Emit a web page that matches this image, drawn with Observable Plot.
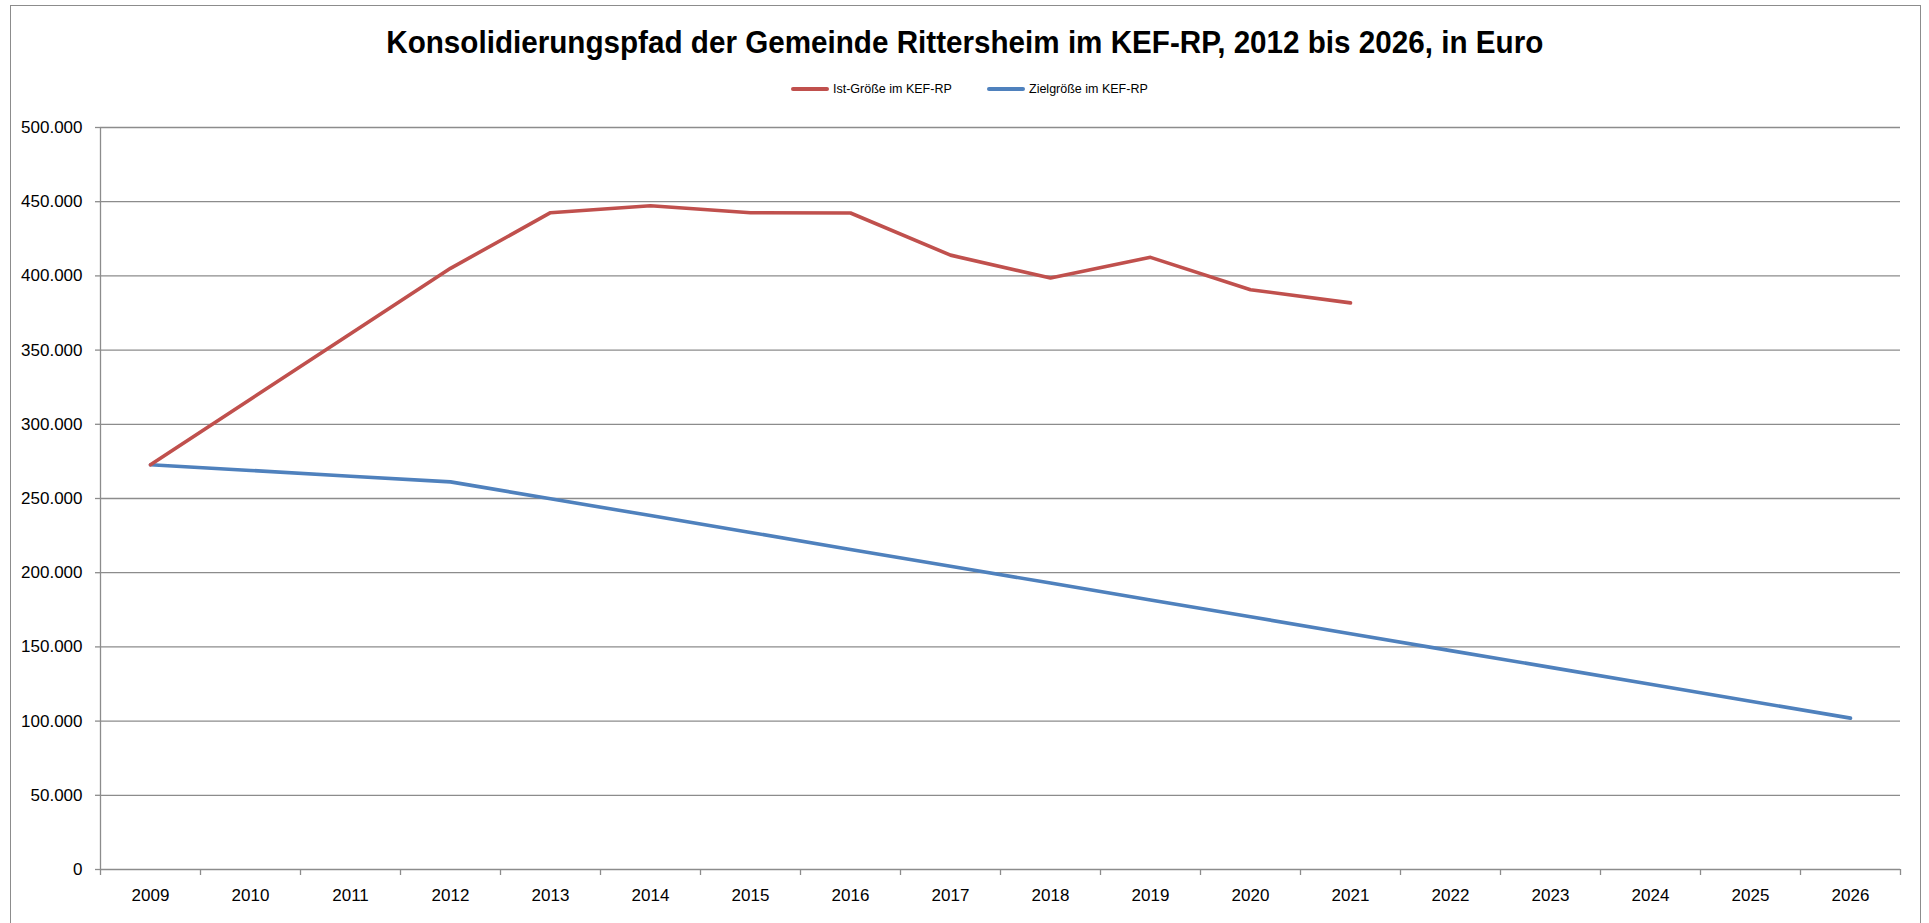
<!DOCTYPE html>
<html>
<head>
<meta charset="utf-8">
<script src="https://cdn.jsdelivr.net/npm/d3@7"></script>
<script src="https://cdn.jsdelivr.net/npm/@observablehq/plot@0.6"></script>
<style>
html, body { margin: 0; padding: 0; background: #fff; overflow: hidden; }
#chart { position: relative; width: 1929px; height: 923px; overflow: hidden; font-family: "Liberation Sans", Arial, sans-serif; color: #000; }
#frame { position: absolute; left: 10px; top: 5px; width: 1911px; height: 960px; border: 1px solid #8c8c8c; box-sizing: border-box; }
#title { position: absolute; left: 0; top: 26px; width: 1929px; text-align: center; font-size: 32px; font-weight: bold; line-height: 32px; white-space: nowrap; }
#title span { display: inline-block; transform-origin: center center; }
.leg { position: absolute; top: 81px; height: 16px; display: flex; align-items: center; font-size: 12.5px; white-space: nowrap; }
.sw { width: 38px; height: 4px; border-radius: 2px; margin-right: 4px; }
#plot { position: absolute; left: 0; top: 100px; }
</style>
</head>
<body>
<div id="chart">
  <div id="frame"></div>
  <div id="title"><span id="tt"></span></div>
  <div class="leg" id="leg1" style="left:791px"></div>
  <div class="leg" id="leg2" style="left:987px"></div>
  <div id="plot"></div>
</div>
<script>
const titleText = "Konsolidierungspfad der Gemeinde Rittersheim im KEF-RP, 2012 bis 2026, in Euro";
const seriesNames = ["Ist-Größe im KEF-RP", "Zielgröße im KEF-RP"];
const seriesColors = ["#C0504D", "#4F81BD"];

const years = [2009, 2010, 2011, 2012, 2013, 2014, 2015, 2016, 2017, 2018, 2019, 2020, 2021, 2022, 2023, 2024, 2025, 2026];
const istValues = [272700, 316900, 361000, 405100, 442600, 447300, 442600, 442400, 414000, 398600, 412500, 390700, 381800, null, null, null, null, null];
const zielValues = [272700, 268900, 265000, 261200, 249800, 238500, 227100, 215700, 204400, 193000, 181600, 170300, 158900, 147500, 136200, 124800, 113400, 102000];
const yTicks = [0, 50000, 100000, 150000, 200000, 250000, 300000, 350000, 400000, 450000, 500000];
const xBoundaries = [2008.5, 2009.5, 2010.5, 2011.5, 2012.5, 2013.5, 2014.5, 2015.5, 2016.5, 2017.5, 2018.5, 2019.5, 2020.5, 2021.5, 2022.5, 2023.5, 2024.5, 2025.5, 2026.5];

// title
const tt = document.getElementById("tt");
tt.textContent = titleText;
const w = tt.getBoundingClientRect().width;
tt.style.transform = `scaleX(${1157 / w})`;

// legend
["leg1", "leg2"].forEach((id, i) => {
  const el = document.getElementById(id);
  const sw = document.createElement("div");
  sw.className = "sw";
  sw.style.background = seriesColors[i];
  const tx = document.createElement("span");
  tx.textContent = seriesNames[i];
  el.appendChild(sw);
  el.appendChild(tx);
});

const de = d3.formatLocale({decimal: ",", thousands: ".", grouping: [3], currency: ["", " €"]});
const fmt = de.format(",.0f");

const istData = years.map((y, i) => ({year: y, value: istValues[i]}));
const zielData = years.map((y, i) => ({year: y, value: zielValues[i]}));

const gridColor = "#8c8c8c";

const chart = Plot.plot({
  width: 1929,
  height: 823,
  marginLeft: 100,
  marginRight: 29,
  marginTop: 27,
  marginBottom: 54,
  x: {type: "linear", domain: [2008.5, 2026.5]},
  y: {type: "linear", domain: [0, 500000]},
  style: {fontFamily: "'Liberation Sans', Arial, sans-serif", fontSize: "17px", color: "#000", background: "transparent"},
  marks: [
    Plot.ruleY(yTicks, {stroke: gridColor, strokeWidth: 1.3}),
    Plot.ruleX([2008.5], {stroke: gridColor, strokeWidth: 1.3}),
    Plot.axisY({ticks: yTicks, tickFormat: d => fmt(d), tickSize: 5, tickPadding: 13, stroke: gridColor, strokeWidth: 1.3, label: null, fontSize: 17, fill: "#000"}),
    Plot.axisX({ticks: xBoundaries, tickFormat: () => "", tickSize: 6, stroke: gridColor, strokeWidth: 1.3, label: null}),
    Plot.axisX({ticks: years, tickFormat: d => String(d), tickSize: 0, tickPadding: 19, label: null, fontSize: 17, fill: "#000"}),
    Plot.line(zielData, {x: "year", y: "value", stroke: seriesColors[1], strokeWidth: 3.6, strokeLinejoin: "round", strokeLinecap: "round"}),
    Plot.line(istData, {x: "year", y: "value", stroke: seriesColors[0], strokeWidth: 3.6, strokeLinejoin: "round", strokeLinecap: "round"})
  ]
});
document.getElementById("plot").appendChild(chart);
</script>
</body>
</html>
